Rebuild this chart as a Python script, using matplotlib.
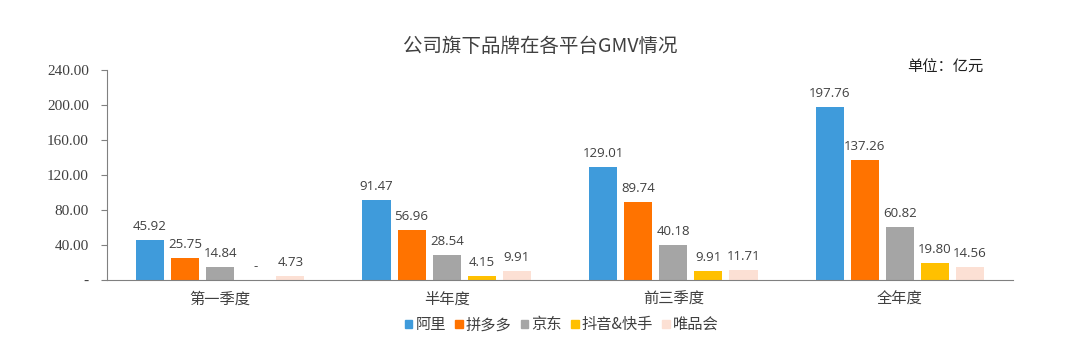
import numpy as np
import matplotlib.pyplot as plt
from matplotlib.patches import Patch

plt.rcParams['font.family'] = ['Noto Sans CJK SC', 'DejaVu Sans']

categories = ['第一季度', '半年度', '前三季度', '全年度']
series_names = ['阿里', '拼多多', '京东', '抖音&快手', '唯品会']
ali = [45.92, 91.47, 129.01, 197.76]
pdd = [25.75, 56.96, 89.74, 137.26]
jd = [14.84, 28.54, 40.18, 60.82]
douyin = [0, 4.15, 9.91, 19.80]
vip = [4.73, 9.91, 11.71, 14.56]
yticks = [0, 40, 80, 120, 160, 200, 240]

colors = ['#3F9BDB', '#FF7300', '#A5A5A5', '#FFC000', '#FCE0D4']
all_series = [ali, pdd, jd, douyin, vip]

fig = plt.figure(figsize=(10.8, 3.55), dpi=100)
ax = fig.add_axes([0.099, 0.211, 0.839, 0.592])

x = np.arange(len(categories))
bw = 0.124
step = 0.155
for i, (vals, c) in enumerate(zip(all_series, colors)):
    pos = x + (i - 2) * step
    ax.bar(pos, vals, width=bw, color=c)
    for p, v in zip(pos, vals):
        txt = '-' if v == 0 else '%.2f' % v
        ax.text(p, v + 8, txt, ha='center', va='bottom', fontsize=9.5,
                color='#404040', family=['Open Sans', 'DejaVu Sans'])

ax.set_xlim(-0.5, 3.5)
ax.set_ylim(0, 240)
ax.set_yticks(yticks)
ax.set_yticklabels(['-' if t == 0 else '%.2f' % t for t in yticks],
                   family=['Liberation Serif'], fontsize=11, color='#404040')
ax.tick_params(axis='y', length=4, color='#808080', pad=9)
ax.set_xticks(x)
ax.set_xticklabels(categories, fontsize=11, color='#404040')
ax.tick_params(axis='x', length=0, pad=8)
ax.spines['top'].set_visible(False)
ax.spines['right'].set_visible(False)
ax.spines['left'].set_color('#808080')
ax.spines['bottom'].set_color('#808080')

fig.text(0.5, 0.87, '公司旗下品牌在各平台GMV情况', ha='center', va='center',
         fontsize=14, color='#404040')
fig.text(0.875, 0.81, '单位：亿元', ha='center', va='center', fontsize=11,
         color='#202020')

handles = [Patch(color=c) for c in colors]
fig.legend(handles, series_names, loc='center', bbox_to_anchor=(0.52, 0.085),
           ncol=5, frameon=False, fontsize=11, handlelength=0.5, handleheight=0.5,
           handletextpad=0.2, columnspacing=0.6, labelcolor='#404040')

fig.savefig('out.png', dpi=100)
